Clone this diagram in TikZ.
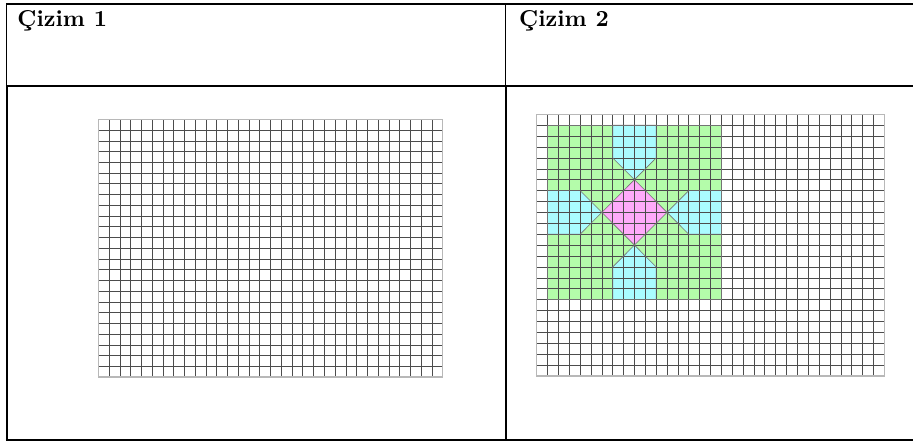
\documentclass[tikz,border=0pt]{standalone}
\definecolor{gfill}{RGB}{180,252,170}
\definecolor{cfill}{RGB}{170,252,255}
\definecolor{mfill}{RGB}{255,170,250}
\begin{document}
\begin{tikzpicture}[x=1pt,y=-1pt,
  tline/.style={line width=1.9pt,black},
  thinline/.style={line width=0.9pt,black},
  gridline/.style={line width=0.55pt,black!70},
  gridborder/.style={line width=1.3pt,black!28},
  shapeline/.style={line width=0.6pt,black!55},
  head/.style={anchor=base west,inner sep=0pt}]
\useasboundingbox (0,0) rectangle (913,441);
% table
\draw[tline] (5.8,4.2) -- (913,4.2);
\draw[tline] (5.8,85.6) -- (913,85.6);
\draw[tline] (5.8,440) -- (913,440);
\draw[thinline] (6.8,4.2) -- (6.8,85.6);
\draw[tline] (6.7,85.6) -- (6.7,440);
\draw[thinline] (505.8,4.2) -- (505.8,85.6);
\draw[tline] (505.8,85.6) -- (505.8,440);
% headings
\node[head] (h1) at (17.2,26.7) {\scalebox{2.3}{\bfseries Çizim 1}};
\node[head] (h2) at (519,26.7) {\scalebox{2.3}{\bfseries Çizim 2}};
% grid 1
\begin{scope}[shift={(98.3pt,-119.3pt)},x=10.76pt,y=-10.74pt]
  \foreach \i in {0,...,32} \draw[gridline] (\i,0) -- (\i,24);
  \foreach \j in {0,...,24} \draw[gridline] (0,\j) -- (32,\j);
  \draw[gridborder] (0,0) rectangle (32,24);
\end{scope}
% grid 2 with figure
\begin{scope}[shift={(536.7pt,-114.3pt)},x=10.86pt,y=-10.9pt]
  \fill[gfill] (1,1) rectangle (17,17);
  \fill[cfill] (7,1) -- (11,1) -- (11,4) -- (9,6) -- (7,4) -- cycle;
  \fill[cfill] (7,17) -- (11,17) -- (11,14) -- (9,12) -- (7,14) -- cycle;
  \fill[cfill] (1,7) -- (4,7) -- (6,9) -- (4,11) -- (1,11) -- cycle;
  \fill[cfill] (17,7) -- (14,7) -- (12,9) -- (14,11) -- (17,11) -- cycle;
  \fill[mfill] (9,6) -- (12,9) -- (9,12) -- (6,9) -- cycle;
  \foreach \i in {0,...,32} \draw[gridline] (\i,0) -- (\i,24);
  \foreach \j in {0,...,24} \draw[gridline] (0,\j) -- (32,\j);
  \draw[gridborder] (0,0) rectangle (32,24);
  \draw[shapeline] (1,1) rectangle (17,17);
  \draw[shapeline] (7,1) -- (11,1) -- (11,4) -- (9,6) -- (7,4) -- cycle;
  \draw[shapeline] (7,17) -- (11,17) -- (11,14) -- (9,12) -- (7,14) -- cycle;
  \draw[shapeline] (1,7) -- (4,7) -- (6,9) -- (4,11) -- (1,11) -- cycle;
  \draw[shapeline] (17,7) -- (14,7) -- (12,9) -- (14,11) -- (17,11) -- cycle;
  \draw[shapeline] (9,6) -- (12,9) -- (9,12) -- (6,9) -- cycle;
\end{scope}
\end{tikzpicture}
\end{document}
